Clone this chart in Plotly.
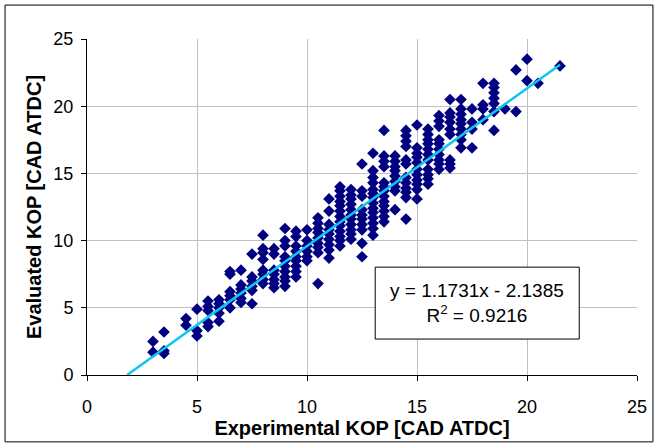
import plotly.graph_objects as go

# Experimental KOP columns (CAD ATDC) and the evaluated KOP values in each column
x_cols = [3.0, 3.5, 4.5, 5.0, 5.5, 6.0, 6.5, 7.0, 7.5, 8.0, 8.5, 9.0, 9.5, 10.0, 10.5,
          11.0, 11.5, 12.0, 12.5, 13.0, 13.5, 14.0, 14.5, 15.0, 15.5, 16.0, 16.5, 17.0,
          17.5, 18.0, 18.5, 19.0, 19.5, 20.0, 20.5, 21.5]
y_cols = [
    [2.5, 1.7],
    [3.2, 1.8, 1.6],
    [4.2, 3.7],
    [4.9, 3.3, 2.9],
    [5.5, 5.1, 4.8, 3.9, 3.6],
    [5.6, 5.3, 5.0, 4.6, 4.0],
    [7.7, 7.5, 6.2, 5.9, 5.6, 5.0],
    [7.8, 6.7, 6.4, 6.1, 5.7, 5.4],
    [9.0, 7.3, 7.0, 6.6, 6.3, 5.3],
    [10.4, 9.4, 9.1, 8.6, 7.8, 7.5, 7.1, 6.8],
    [9.4, 9.0, 7.8, 7.5, 7.1, 6.8, 6.5],
    [10.9, 10.0, 9.6, 8.8, 8.5, 8.1, 7.7, 7.3, 7.0, 6.6],
    [10.7, 10.3, 9.6, 9.2, 8.8, 8.5, 8.1, 7.7, 7.3],
    [10.8, 10.0, 9.6, 9.2, 8.8, 8.5],
    [11.7, 11.3, 10.9, 10.6, 10.2, 9.8, 9.5, 9.1, 6.8],
    [13.1, 12.2, 11.2, 10.8, 10.5, 10.1, 9.7, 9.3, 8.7],
    [14.0, 13.7, 13.3, 12.9, 12.6, 12.2, 11.8, 11.4, 11.1, 10.7, 10.3, 10.0, 9.6],
    [13.8, 13.4, 13.1, 12.7, 12.3, 11.9, 11.6, 11.2, 10.8, 10.5, 10.1],
    [15.7, 13.7, 13.3, 12.3, 11.9, 11.6, 11.2, 10.8, 9.8, 8.8],
    [16.5, 15.2, 14.7, 14.3, 13.8, 13.5, 13.2, 12.8, 12.4, 12.1, 11.7, 11.3, 10.9, 10.4],
    [18.2, 16.3, 15.9, 15.5, 14.3, 14.0, 13.7, 13.3, 12.9, 12.6, 12.2, 11.8, 11.4],
    [16.3, 15.9, 15.5, 15.2, 14.8, 14.4, 14.0, 13.7, 12.3],
    [18.2, 17.8, 17.4, 17.0, 16.0, 15.7, 14.7, 14.3, 13.9, 13.6, 13.2, 11.6],
    [18.6, 16.9, 16.5, 16.2, 15.8, 15.3, 14.9, 14.5, 14.2, 13.8, 13.1],
    [18.3, 17.9, 17.5, 17.2, 16.8, 16.4, 16.0, 15.3, 14.9, 14.6, 14.2],
    [19.3, 18.9, 18.5, 17.5, 17.2, 16.8, 16.4, 16.0, 15.7, 15.3],
    [20.5, 19.5, 19.2, 18.8, 18.3, 17.9, 16.0, 15.7, 15.4],
    [20.5, 19.8, 19.4, 19.0, 18.7, 18.3, 17.9, 17.5, 16.9],
    [19.8, 18.8, 18.3, 16.9],
    [21.7, 20.1, 19.8, 19.0],
    [21.7, 21.4, 21.0, 20.6, 20.2, 19.6, 18.2],
    [19.8],
    [22.7, 19.6],
    [23.5, 21.9],
    [21.7],
    [23.0],
]

slope = 1.1731
intercept = -2.1385
r_squared = 0.9216

axis_ticks = [0, 5, 10, 15, 20, 25]

x_exp = [xc for xc, ys in zip(x_cols, y_cols) for _ in ys]
y_eval = [y for ys in y_cols for y in ys]

x_line = [-intercept / slope, max(x_exp)]
y_line = [slope * v + intercept for v in x_line]

fig = go.Figure()
fig.add_trace(go.Scatter(
    x=x_exp, y=y_eval, mode="markers",
    marker=dict(symbol="diamond", size=9, color="#000080", line=dict(width=0)),
    showlegend=False, hoverinfo="x+y"))
fig.add_trace(go.Scatter(
    x=x_line, y=y_line, mode="lines",
    line=dict(color="#11C5F0", width=2.5),
    showlegend=False, hoverinfo="skip"))

font_family = "Liberation Sans, Arial, sans-serif"

fig.update_layout(
    width=659, height=448,
    margin=dict(l=87, r=22, t=39, b=73, autoexpand=False),
    paper_bgcolor="white", plot_bgcolor="white",
    font=dict(family=font_family, size=18, color="black"),
    xaxis=dict(
        range=[0, 25], tickvals=axis_ticks, ticktext=[str(t) for t in axis_ticks],
        showgrid=True, gridcolor="#C0C0C0", gridwidth=1,
        showline=True, linecolor="black", linewidth=1,
        ticks="outside", ticklen=5, tickcolor="black",
        zeroline=False, mirror=False, automargin=False,
        ticklabelstandoff=10,
        title=dict(text="<b>Experimental KOP [CAD ATDC]</b>", font=dict(size=20), standoff=2),
    ),
    yaxis=dict(
        range=[0, 25], tickvals=axis_ticks, ticktext=[str(t) for t in axis_ticks],
        showgrid=True, gridcolor="#C0C0C0", gridwidth=1,
        showline=True, linecolor="black", linewidth=1,
        ticks="outside", ticklen=5, tickcolor="black",
        zeroline=False, mirror=False, automargin=False,
        ticklabelstandoff=4,
        title=dict(text="<b>Evaluated KOP [CAD ATDC]</b>", font=dict(size=20), standoff=6),
    ),
    shapes=[
        # outer chart border
        dict(type="rect", xref="paper", yref="paper",
             x0=-0.149, x1=1.029, y0=-0.199, y1=1.101,
             line=dict(color="black", width=1), fillcolor="rgba(0,0,0,0)", layer="above"),
        # equation box
        dict(type="rect", xref="paper", yref="paper",
             x0=0.524, x1=0.895, y0=0.107, y1=0.321,
             line=dict(color="black", width=1), fillcolor="white", layer="above"),
    ],
    annotations=[
        dict(xref="paper", yref="paper", x=0.7095, y=0.214, showarrow=False,
             xanchor="center", yanchor="middle",
             text=f"y = {slope}x - {abs(intercept)}<br>R<sup>2</sup> = {r_squared}",
             font=dict(size=19, family=font_family, color="black"), align="center"),
    ],
)

fig.write_html("out.html", config={"displayModeBar": False},
               post_script="document.body.style.margin='0';")
